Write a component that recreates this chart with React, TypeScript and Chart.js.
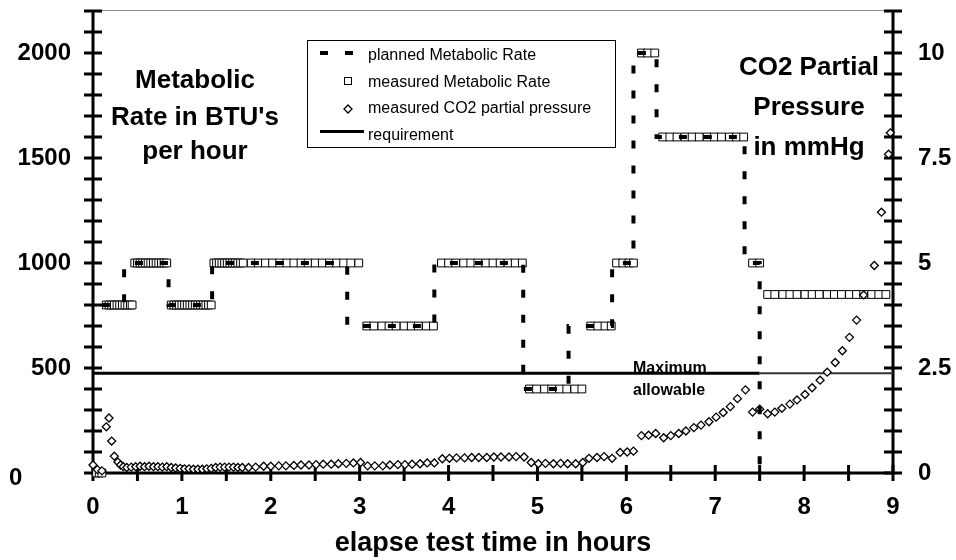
import React, { useEffect, useRef } from 'react';
import { Chart, registerables } from 'chart.js';

Chart.register(...registerables);

const FONT = "'Liberation Sans', Arial, Helvetica, sans-serif";

// planned metabolic rate (BTU/hr): each value holds from its start hour to the next start hour
const plannedStartHours = [0.1, 0.35, 0.85, 1.34, 2.86, 3.84, 4.84, 5.35, 5.84, 6.08, 6.34, 7.33, 7.5];
const plannedRates = [800, 1000, 800, 1000, 700, 1000, 400, 700, 1000, 2000, 1600, 1000, 0];

// measured metabolic rate [hour, BTU/hr]
const measuredRatePoints: [number, number][] = [
  [0.04, 0], [0.07, 0], [0.1, 0],
  [0.15, 800], [0.18, 800], [0.21, 800], [0.24, 800], [0.27, 800], [0.3, 800], [0.33, 800], [0.36, 800], [0.39, 800], [0.42, 800], [0.44, 800],
  [0.47, 1000], [0.5, 1000], [0.53, 1000], [0.56, 1000], [0.59, 1000], [0.62, 1000], [0.65, 1000], [0.68, 1000], [0.71, 1000], [0.74, 1000], [0.77, 1000], [0.8, 1000], [0.83, 1000],
  [0.88, 800], [0.91, 800], [0.94, 800], [0.97, 800], [1.0, 800], [1.03, 800], [1.06, 800], [1.09, 800], [1.12, 800], [1.15, 800], [1.18, 800], [1.21, 800], [1.24, 800], [1.27, 800], [1.3, 800], [1.33, 800],
  [1.36, 1000], [1.39, 1000], [1.42, 1000], [1.45, 1000], [1.48, 1000], [1.51, 1000], [1.54, 1000], [1.57, 1000], [1.6, 1000], [1.63, 1000], [1.66, 1000], [1.69, 1000],
  [1.78, 1000], [1.86, 1000], [1.94, 1000], [2.02, 1000], [2.1, 1000], [2.18, 1000], [2.26, 1000], [2.34, 1000], [2.42, 1000], [2.5, 1000], [2.58, 1000], [2.66, 1000], [2.74, 1000], [2.82, 1000], [2.9, 1000], [2.99, 1000],
  [3.08, 700], [3.16, 700], [3.25, 700], [3.33, 700], [3.41, 700], [3.5, 700], [3.58, 700], [3.66, 700], [3.75, 700], [3.83, 700],
  [3.92, 1000], [4.0, 1000], [4.08, 1000], [4.17, 1000], [4.25, 1000], [4.33, 1000], [4.42, 1000], [4.5, 1000], [4.58, 1000], [4.67, 1000], [4.75, 1000], [4.83, 1000],
  [4.91, 400], [4.99, 400], [5.08, 400], [5.16, 400], [5.25, 400], [5.33, 400], [5.42, 400], [5.5, 400],
  [5.6, 700], [5.68, 700], [5.76, 700], [5.83, 700],
  [5.89, 1000], [5.96, 1000], [6.03, 1000], [6.08, 1000],
  [6.17, 2000], [6.24, 2000], [6.32, 2000],
  [6.41, 1600], [6.49, 1600], [6.57, 1600], [6.66, 1600], [6.74, 1600], [6.82, 1600], [6.91, 1600], [6.99, 1600], [7.07, 1600], [7.16, 1600], [7.24, 1600], [7.32, 1600],
  [7.42, 1000], [7.5, 1000],
  [7.59, 850], [7.67, 850], [7.76, 850], [7.84, 850], [7.92, 850], [8.01, 850], [8.09, 850], [8.17, 850], [8.26, 850], [8.34, 850], [8.42, 850], [8.51, 850], [8.59, 850], [8.67, 850], [8.76, 850], [8.84, 850], [8.92, 850],
];

// measured CO2 partial pressure [hour, mmHg]
const co2Points: [number, number][] = [
  [0.0, 0.19], [0.05, 0.08], [0.1, 0.05], [0.15, 1.1], [0.18, 1.31], [0.21, 0.76], [0.24, 0.4], [0.28, 0.26], [0.31, 0.19], [0.34, 0.15],
  [0.38, 0.13], [0.43, 0.14], [0.48, 0.15], [0.53, 0.16], [0.58, 0.15], [0.63, 0.16], [0.68, 0.15], [0.73, 0.15], [0.78, 0.14], [0.83, 0.15], [0.88, 0.13], [0.93, 0.12], [0.98, 0.11], [1.03, 0.1], [1.08, 0.1], [1.13, 0.09], [1.18, 0.09], [1.23, 0.09], [1.28, 0.1], [1.33, 0.11], [1.38, 0.13], [1.43, 0.14], [1.48, 0.14], [1.53, 0.14], [1.58, 0.14], [1.63, 0.13], [1.68, 0.13],
  [1.75, 0.13], [1.83, 0.14], [1.92, 0.16], [2.0, 0.16], [2.09, 0.17], [2.17, 0.17], [2.26, 0.18], [2.34, 0.19], [2.43, 0.19], [2.51, 0.2], [2.59, 0.21], [2.68, 0.21], [2.76, 0.22], [2.85, 0.23], [2.93, 0.24], [3.01, 0.25],
  [3.09, 0.17], [3.17, 0.17], [3.26, 0.17], [3.34, 0.19], [3.43, 0.2], [3.51, 0.2], [3.59, 0.21], [3.68, 0.22], [3.76, 0.24], [3.84, 0.24],
  [3.93, 0.34], [4.01, 0.35], [4.09, 0.36], [4.18, 0.36], [4.26, 0.37], [4.34, 0.37], [4.43, 0.37], [4.51, 0.38], [4.59, 0.38], [4.68, 0.38], [4.76, 0.39], [4.85, 0.38],
  [4.93, 0.25], [5.01, 0.22], [5.09, 0.23], [5.18, 0.22], [5.26, 0.23], [5.34, 0.22], [5.43, 0.22], [5.51, 0.25],
  [5.58, 0.35], [5.67, 0.37], [5.75, 0.39], [5.84, 0.35], [5.93, 0.49], [6.01, 0.5], [6.08, 0.52],
  [6.17, 0.89], [6.25, 0.9], [6.33, 0.94], [6.42, 0.84], [6.5, 0.89], [6.59, 0.94], [6.67, 1.0], [6.76, 1.08], [6.84, 1.14], [6.93, 1.22], [7.01, 1.33], [7.09, 1.44], [7.17, 1.58], [7.25, 1.77], [7.34, 1.98],
  [7.42, 1.45], [7.5, 1.52], [7.59, 1.41], [7.67, 1.45], [7.75, 1.54], [7.84, 1.64], [7.92, 1.74], [8.01, 1.87], [8.09, 2.03], [8.18, 2.21], [8.26, 2.4], [8.35, 2.63], [8.43, 2.91], [8.51, 3.23], [8.59, 3.64], [8.67, 4.24], [8.79, 4.94], [8.87, 6.21], [8.95, 7.59], [8.97, 8.1],
];

// requirement (maximum allowable), on the metabolic-rate axis
const requirementHours = [0, 7.5, 9];
const requirementRate = 475;

const leftTickLabels = [500, 1000, 1500, 2000];
const rightTickLabels = [0, 2.5, 5, 7.5, 10];
const xTickLabels = [0, 1, 2, 3, 4, 5, 6, 7, 8, 9];

const legendLabels = ['planned Metabolic Rate', 'measured Metabolic Rate', 'measured CO2 partial pressure', 'requirement'];
const leftTitle = ['Metabolic', "Rate in BTU's", 'per hour'];
const rightTitle = ['CO2 Partial', 'Pressure', 'in mmHg'];
const requirementNote = ['Maximum', 'allowable'];
const xTitle = 'elapse test time in hours';

const decorPlugin = {
  id: 'decor',
  beforeDatasetsDraw(chart: any) {
    const { ctx, chartArea: a, scales } = chart;
    const x = scales.x, y = scales.y, y1 = scales.y1;
    ctx.save();
    // top frame
    ctx.strokeStyle = '#8a8a8a';
    ctx.lineWidth = 1;
    ctx.beginPath();
    ctx.moveTo(a.left, a.top - 0.5);
    ctx.lineTo(a.right, a.top - 0.5);
    ctx.stroke();
    // axes
    ctx.strokeStyle = '#000';
    ctx.lineWidth = 3;
    ctx.beginPath();
    ctx.moveTo(a.left, a.top - 1);
    ctx.lineTo(a.left, a.bottom + 1.5);
    ctx.moveTo(a.right, a.top - 1);
    ctx.lineTo(a.right, a.bottom + 1.5);
    ctx.moveTo(a.left - 1.5, a.bottom);
    ctx.lineTo(a.right + 1.5, a.bottom);
    ctx.stroke();
    // tick marks crossing the axes
    ctx.beginPath();
    y.ticks.forEach((t: any) => {
      const p = y.getPixelForValue(t.value);
      ctx.moveTo(a.left - 9, p);
      ctx.lineTo(a.left + 9, p);
    });
    y1.ticks.forEach((t: any) => {
      const p = y1.getPixelForValue(t.value);
      ctx.moveTo(a.right - 9, p);
      ctx.lineTo(a.right + 9, p);
    });
    x.ticks.forEach((t: any) => {
      const p = x.getPixelForValue(t.value);
      ctx.moveTo(p, a.bottom - 8);
      ctx.lineTo(p, a.bottom + 8);
    });
    ctx.stroke();
    ctx.restore();
  },
  afterDatasetsDraw(chart: any) {
    const { ctx, scales } = chart;
    const y = scales.y;
    ctx.save();
    ctx.fillStyle = '#000';
    // left axis "0"
    ctx.font = `bold 24px ${FONT}`;
    ctx.textAlign = 'left';
    ctx.textBaseline = 'middle';
    ctx.fillText('0', 9, y.getPixelForValue(0) + 5);

    // axis titles inside the plot
    ctx.font = `bold 26px ${FONT}`;
    ctx.textAlign = 'center';
    ctx.textBaseline = 'alphabetic';
    const lb = [88, 125, 159];
    leftTitle.forEach((s, i) => ctx.fillText(s, 195, lb[i]));
    const rb = [75, 115, 155];
    rightTitle.forEach((s, i) => ctx.fillText(s, 809, rb[i]));

    // requirement note
    ctx.font = `bold 16px ${FONT}`;
    ctx.textAlign = 'left';
    ctx.fillText(requirementNote[0], 633, 373);
    ctx.fillText(requirementNote[1], 633, 395);

    // legend
    const lx = 307, ly = 40, lw = 308, lh = 107;
    ctx.fillStyle = '#fff';
    ctx.fillRect(lx, ly, lw, lh);
    ctx.strokeStyle = '#000';
    ctx.lineWidth = 1;
    ctx.strokeRect(lx + 0.5, ly + 0.5, lw, lh);
    ctx.fillStyle = '#000';
    ctx.font = `16px ${FONT}`;
    ctx.textBaseline = 'middle';
    const rows = [56, 83, 109, 136];
    legendLabels.forEach((s, i) => ctx.fillText(s, 368, rows[i]));
    // planned symbol
    ctx.fillRect(320, 51, 8, 4);
    ctx.fillRect(345, 51, 8, 4);
    // square
    ctx.fillStyle = '#fff';
    ctx.fillRect(344.5, 77.5, 7, 7);
    ctx.strokeRect(344.5, 77.5, 7, 7);
    // diamond
    ctx.beginPath();
    ctx.moveTo(348, 105);
    ctx.lineTo(352, 109);
    ctx.lineTo(348, 113);
    ctx.lineTo(344, 109);
    ctx.closePath();
    ctx.fill();
    ctx.lineWidth = 1.3;
    ctx.stroke();
    // requirement line
    ctx.fillStyle = '#000';
    ctx.fillRect(320, 130, 44, 3);
    ctx.restore();
  },
};

export default function App() {
  const ref = useRef<HTMLCanvasElement | null>(null);

  useEffect(() => {
    document.body.style.margin = '0';
    const canvas = ref.current;
    if (!canvas) return;

    const tickFont = { family: FONT, size: 24, weight: 'bold' as const };

    const chart = new Chart(canvas, {
      type: 'scatter',
      data: {
        datasets: [
          {
            label: legendLabels[0],
            data: plannedStartHours.map((h, i) => ({ x: h, y: plannedRates[i] })),
            showLine: true,
            stepped: 'before',
            borderColor: '#000',
            borderWidth: 4,
            borderDash: [8, 17],
            borderCapStyle: 'butt',
            pointRadius: 0,
            yAxisID: 'y',
            clip: false,
          } as any,
          {
            label: legendLabels[2],
            data: co2Points.map(([h, v]) => ({ x: h, y: v })),
            pointStyle: 'rectRot',
            pointRadius: 4,
            borderColor: '#000',
            backgroundColor: '#fff',
            borderWidth: 1.3,
            yAxisID: 'y1',
            clip: false,
          } as any,
          {
            label: legendLabels[1],
            data: measuredRatePoints.map(([h, v]) => ({ x: h, y: v })),
            pointStyle: 'rect',
            pointRadius: 5.5,
            borderColor: '#000',
            backgroundColor: '#fff',
            borderWidth: 1,
            yAxisID: 'y',
            clip: false,
          } as any,
          {
            label: legendLabels[3],
            data: requirementHours.map((h) => ({ x: h, y: requirementRate })),
            showLine: true,
            borderColor: '#000',
            borderWidth: 3,
            pointRadius: 0,
            segment: {
              borderWidth: (c: any) => (c.p0.parsed.x >= 7.5 ? 2 : 3),
              borderColor: (c: any) => (c.p0.parsed.x >= 7.5 ? '#333' : '#000'),
            },
            yAxisID: 'y',
            clip: false,
          } as any,
        ],
      },
      options: {
        responsive: false,
        animation: false,
        events: [],
        layout: { padding: { top: 11, left: 0, right: 0, bottom: 0 } },
        plugins: { legend: { display: false }, tooltip: { enabled: false } },
        scales: {
          x: {
            type: 'linear',
            min: 0,
            max: 9,
            grid: { display: false, drawTicks: false },
            border: { display: false },
            ticks: {
              stepSize: 0.5,
              autoSkip: false,
              maxRotation: 0,
              padding: 20,
              color: '#000',
              font: tickFont,
              callback: (v: any) => (xTickLabels.includes(v) ? String(v) : ''),
            },
            title: {
              display: true,
              text: xTitle,
              color: '#000',
              font: { family: FONT, size: 27, weight: 'bold' },
              padding: { top: 0, bottom: 0 },
            },
            afterFit: (s: any) => {
              s.height = 87;
              s.paddingLeft = 0;
              s.paddingRight = 0;
            },
          },
          y: {
            type: 'linear',
            position: 'left',
            min: 0,
            max: 2200,
            grid: { display: false, drawTicks: false },
            border: { display: false },
            ticks: {
              stepSize: 100,
              autoSkip: false,
              padding: 22,
              color: '#000',
              font: tickFont,
              callback: (v: any) => (leftTickLabels.includes(v) ? String(v) : ''),
            },
            afterFit: (s: any) => {
              s.width = 93;
              s.paddingTop = 0;
              s.paddingBottom = 0;
            },
          },
          y1: {
            type: 'linear',
            position: 'right',
            min: 0,
            max: 11,
            grid: { display: false, drawTicks: false },
            border: { display: false },
            ticks: {
              stepSize: 0.5,
              autoSkip: false,
              padding: 25,
              color: '#000',
              font: tickFont,
              callback: (v: any) => (rightTickLabels.includes(v) ? String(v) : ''),
            },
            afterFit: (s: any) => {
              s.width = 63;
              s.paddingTop = 0;
              s.paddingBottom = 0;
            },
          },
        },
      } as any,
      plugins: [decorPlugin],
    });

    return () => chart.destroy();
  }, []);

  return (
    <div style={{ width: 956, height: 560, background: '#fff' }}>
      <canvas ref={ref} width={956} height={560} style={{ display: 'block' }} />
    </div>
  );
}
